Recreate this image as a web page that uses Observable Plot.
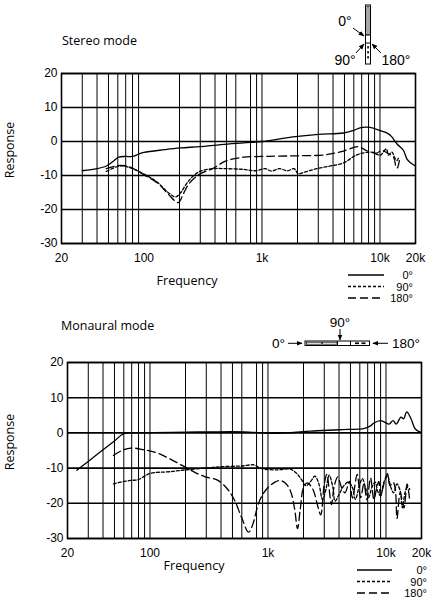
<!DOCTYPE html>
<html><head><meta charset="utf-8">
<script src="https://cdn.jsdelivr.net/npm/d3@7"></script>
<script src="https://cdn.jsdelivr.net/npm/@observablehq/plot@0.6"></script>
<style>
html,body{margin:0;padding:0;background:#fff;}
#page{position:relative;width:435px;height:600px;overflow:hidden;}
#page svg{display:block;}
#overlay{position:absolute;left:0;top:0;}
</style></head><body>
<div id="page"><div id="top"></div><div id="bottom"></div></div>
<script>
// ---------- data ----------
const yTicks = [-30, -20, -10, 0, 10, 20];
const xTickValues = [20, 100, 1000, 10000, 20000];
const xTickLabels = ["20", "100", "1k", "10k", "20k"];
const stereoGrid = [30,40,50,60,70,80,90,200,300,400,500,600,800,900,1000,2000,3000,4000,5000,6000,7000,8000,9000,10000];
const monoGrid = [30,40,50,60,70,80,90,100,200,300,400,500,600,800,900,1000,2000,3000,4000,5000,6000,7000,8000,9000,10000];
const legendLabels = ["0°", "90°", "180°"];

// Stereo mode [Hz, dB]
const stereo0 = [[30,-8.6],[40,-8.0],[48,-7.2],[55,-5.8],[61,-4.6],[70,-4.4],[80,-4.4],[90,-3.7],[100,-3.2],[150,-2.4],[203,-1.9],[300,-1.5],[450,-0.9],[700,-0.4],[1000,0],[1500,0.9],[2000,1.5],[3000,2.1],[4900,2.5],[6000,3.3],[6900,4.1],[7800,4.2],[8600,4.0],[10000,3.2],[11600,2.4],[12500,1.5],[14000,-0.8],[15800,-2.6],[16900,-5.1],[18000,-6.2],[20000,-7.2]];
const stereo90 = [[48,-8.8],[55,-7.8],[63,-7.2],[75,-7.6],[100,-9.6],[130,-12.0],[160,-15.0],[185,-16.3],[200,-15.5],[240,-11.5],[290,-9.0],[380,-8.0],[500,-8.0],[700,-8.2],[880,-8.6],[1070,-8.0],[1200,-8.7],[1400,-8.0],[1650,-8.6],[1870,-8.0],[2030,-9.5],[2200,-9.2],[2900,-8.0],[3800,-7.2],[4900,-6.3],[6300,-4.0],[7700,-3.2],[8800,-3.2],[9300,-3.7],[10100,-4.0],[11300,-2.2],[11800,-4.0],[12600,-3.1],[13500,-5.1],[14000,-5.6],[14400,-4.4]];
const stereo180 = [[48,-8.0],[55,-7.4],[63,-7.0],[75,-7.4],[100,-9.8],[130,-12.2],[160,-15.4],[195,-18.0],[215,-15.5],[240,-12.5],[290,-9.8],[380,-8.0],[490,-5.8],[700,-4.6],[1000,-4.4],[1350,-4.3],[2100,-4.2],[3500,-3.9],[4900,-2.8],[6600,-1.5],[7600,-2.6],[9400,-3.4],[10300,-2.6],[11800,-3.6],[13000,-4.6],[13700,-7.5],[14000,-7.8],[14600,-5.6]];

// Monaural mode [Hz, dB]
const mono0 = [[24,-10.6],[30,-8.1],[40,-4.8],[50,-2.3],[60,-0.2],[80,0],[105,0.1],[200,0.2],[330,0.3],[626,0.3],[1050,-0.1],[1500,0],[2300,0.5],[4000,0.9],[6600,1.3],[7400,2.0],[7900,2.8],[9000,3.5],[9800,3.0],[10600,2.5],[11500,3.5],[12200,2.5],[13400,4.5],[14100,4.0],[15000,6.0],[16300,4.0],[17700,1.1],[20000,0.1]];
const mono90 = [[49,-14.5],[60,-13.8],[69,-13.5],[79,-13.3],[90,-12.3],[100,-11.5],[150,-11.0],[200,-10.5],[295,-10.0],[400,-9.6],[600,-9.4],[760,-9.1],[870,-10.1],[1200,-10.5],[1550,-10.3],[1750,-11.5],[1900,-13.0],[2100,-15.0],[2300,-13.8],[2500,-12.3],[2700,-14.5],[2900,-19.0],[3100,-16.0],[3300,-12.0],[3550,-15.5],[3700,-19.4],[4000,-17.5],[4400,-15.0],[4800,-14.0],[5200,-15.5],[5500,-18.9],[5900,-15.5],[6300,-13.0],[6700,-15.5],[7100,-18.4],[7600,-15.5],[8100,-14.0],[8500,-16.5],[9000,-17.9],[9600,-14.0],[10300,-12.2],[11000,-15.5],[11600,-17.0],[12400,-14.5],[13200,-16.5],[13800,-21.3],[14500,-17.0],[15200,-15.5],[15900,-16.0]];
const mono180 = [[49,-6.4],[58,-5.0],[69,-4.3],[89,-4.8],[115,-5.7],[150,-7.5],[200,-9.8],[240,-11.2],[290,-12.4],[376,-13.5],[455,-16.0],[517,-18.9],[600,-24.2],[685,-28.2],[740,-26.2],[810,-21.3],[872,-18.4],[1000,-15.5],[1120,-14.2],[1250,-13.5],[1400,-14.2],[1550,-16.5],[1680,-21.5],[1780,-27.2],[1880,-21.5],[2000,-15.5],[2150,-14.2],[2400,-16.0],[2650,-21.0],[2800,-23.3],[3000,-14.5],[3150,-11.8],[3300,-16.0],[3450,-20.4],[3650,-15.0],[3900,-12.5],[4200,-15.5],[4500,-17.0],[4900,-13.8],[5200,-18.5],[5700,-11.8],[6100,-18.4],[6500,-14.5],[6900,-19.0],[7400,-12.8],[7900,-18.9],[8300,-16.0],[8700,-13.8],[9000,-17.9],[9600,-14.5],[10300,-11.6],[10800,-15.0],[11500,-14.0],[12000,-16.0],[12400,-24.3],[13200,-17.0],[14200,-21.3],[15100,-14.5],[15800,-18.5]];

const dashes = ["none", "3,2", "8,4"];

// ---------- charts ----------
function chart({grid, series, marginLeft, marginRight, marginTop, marginBottom, height}) {
  return Plot.plot({
    width: 435, height, marginLeft, marginRight, marginTop, marginBottom,
    style: {fontFamily: "'Liberation Sans', Arial, sans-serif", fontSize: "12px", color: "black", background: "white"},
    x: {type: "log", domain: [20, 20000]},
    y: {domain: [-30, 20]},
    marks: [
      Plot.ruleX(grid, {stroke: "black", strokeWidth: 1}),
      Plot.ruleY(yTicks, {stroke: "black", strokeWidth: 1.6}),
      Plot.frame({stroke: "black", strokeWidth: 1.6}),
      Plot.axisX({ticks: xTickValues, tickFormat: d => xTickLabels[xTickValues.indexOf(d)], tickSize: 0, tickPadding: 10, label: null}),
      Plot.axisY({ticks: yTicks, tickFormat: d => String(d), tickSize: 0, tickPadding: 4, label: null}),
      ...series.map((s, i) => Plot.line(s, {x: d => d[0], y: d => d[1], curve: "catmull-rom", stroke: "black", strokeWidth: 1.3, strokeDasharray: dashes[i]}))
    ]
  });
}

document.getElementById("top").append(chart({grid: stereoGrid, series: [stereo0, stereo90, stereo180], marginLeft: 61, marginRight: 20, marginTop: 73, marginBottom: 62, height: 305}));
document.getElementById("bottom").append(chart({grid: monoGrid, series: [mono0, mono90, mono180], marginLeft: 67, marginRight: 14, marginTop: 57, marginBottom: 62, height: 295}));

// ---------- decorations: titles, axis titles, icons, legends ----------
const hum = "'Open Sans', 'Noto Sans', sans-serif";
const ari = "'Liberation Sans', Arial, sans-serif";
function legend(x1, x2, tx, ys) {
  return ys.map((y, i) => `<line x1="${x1}" x2="${x2}" y1="${y}" y2="${y}" stroke="black" stroke-width="1.3" ${dashes[i] === "none" ? "" : `stroke-dasharray="${dashes[i]}"`}/>
  <text x="${tx}" y="${y + 4}" text-anchor="end" font-family="${ari}" font-size="11">${legendLabels[i]}</text>`).join("");
}
const ov = `<svg id="overlay" width="435" height="600" xmlns="http://www.w3.org/2000/svg">
<defs><marker id="ah" viewBox="0 0 10 10" refX="9" refY="5" markerWidth="6" markerHeight="6" orient="auto-start-reverse"><path d="M0,1 L10,5 L0,9 z" fill="black"/></marker></defs>
<text x="62" y="45" font-family="${hum}" font-size="12.5">Stereo mode</text>
<text x="61" y="330" font-family="${hum}" font-size="12.5">Monaural mode</text>
<text x="187" y="284.5" text-anchor="middle" font-family="${hum}" font-size="12.5">Frequency</text>
<text x="194" y="569.5" text-anchor="middle" font-family="${hum}" font-size="12.5">Frequency</text>
<text transform="translate(14,150) rotate(-90)" text-anchor="middle" font-family="${hum}" font-size="12.5">Response</text>
<text transform="translate(14,442) rotate(-90)" text-anchor="middle" font-family="${hum}" font-size="12.5">Response</text>
<!-- stereo icon -->
<rect x="365.5" y="5" width="5" height="59" fill="white" stroke="black" stroke-width="1"/>
<rect x="367" y="6.5" width="2" height="28" fill="none" stroke="black" stroke-width="0.7"/>
<line x1="365.5" x2="370.5" y1="35" y2="35" stroke="black" stroke-width="1"/>
<line x1="365.5" x2="370.5" y1="43" y2="43" stroke="black" stroke-width="1"/>
<rect x="367.3" y="46" width="1.5" height="2.5" fill="black"/>
<rect x="367.3" y="51" width="1.5" height="2.5" fill="black"/>
<rect x="367.3" y="56" width="1.5" height="2.5" fill="black"/>
<text x="345" y="26" text-anchor="middle" font-family="${ari}" font-size="14">0°</text>
<text x="345" y="65" text-anchor="middle" font-family="${ari}" font-size="14">90°</text>
<text x="396" y="65" text-anchor="middle" font-family="${ari}" font-size="14">180°</text>
<line x1="353" y1="28" x2="364" y2="36" stroke="black" stroke-width="1" marker-end="url(#ah)"/>
<line x1="356" y1="53" x2="364" y2="44" stroke="black" stroke-width="1" marker-end="url(#ah)"/>
<line x1="381" y1="53" x2="372" y2="44" stroke="black" stroke-width="1" marker-end="url(#ah)"/>
<!-- mono icon -->
<rect x="305" y="341" width="64.5" height="4.5" fill="white" stroke="black" stroke-width="1"/>
<rect x="306.3" y="342.2" width="15" height="2" fill="none" stroke="black" stroke-width="0.7"/>
<rect x="322.5" y="342.2" width="14.5" height="2" fill="none" stroke="black" stroke-width="0.7"/>
<line x1="337.5" x2="337.5" y1="341" y2="345.5" stroke="black" stroke-width="1"/>
<line x1="350.5" x2="350.5" y1="341" y2="345.5" stroke="black" stroke-width="1"/>
<rect x="355" y="342.4" width="4" height="1.7" fill="black"/>
<rect x="361.5" y="342.4" width="4" height="1.7" fill="black"/>
<text x="340" y="327" text-anchor="middle" font-family="${ari}" font-size="13.5">90°</text>
<text x="278.5" y="348" text-anchor="middle" font-family="${ari}" font-size="13.5">0°</text>
<text x="406" y="348" text-anchor="middle" font-family="${ari}" font-size="13.5">180°</text>
<line x1="340" y1="329" x2="340" y2="340" stroke="black" stroke-width="1" marker-end="url(#ah)"/>
<line x1="288" y1="343.3" x2="302" y2="343.3" stroke="black" stroke-width="1" marker-end="url(#ah)"/>
<line x1="388" y1="343.3" x2="373" y2="343.3" stroke="black" stroke-width="1" marker-end="url(#ah)"/>
${legend(348, 384, 413, [275, 286.5, 298])}
${legend(357, 392, 427, [570, 581.5, 593])}
</svg>`;
document.getElementById("page").insertAdjacentHTML("beforeend", ov);
</script>
</body></html>
